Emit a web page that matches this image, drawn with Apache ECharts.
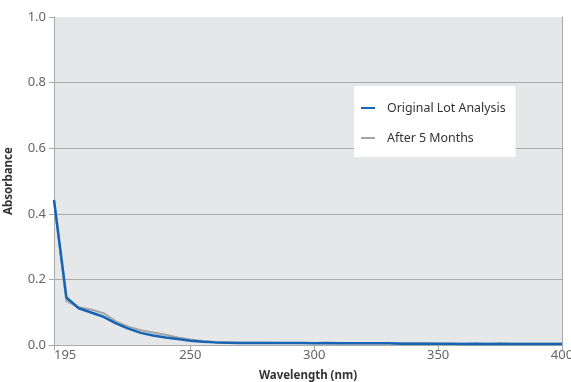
<!DOCTYPE html>
<html>
<head>
<meta charset="utf-8">
<script src="https://cdn.jsdelivr.net/npm/echarts@6/dist/echarts.min.js"></script>
<style>
html,body{margin:0;padding:0;background:#fff;}
#chart{width:571px;height:382px;}
</style>
</head>
<body>
<div id="chart"></div>
<script>
const wavelengths = [195,200,205,210,215,220,225,230,235,240,245,250,255,260,265,270,275,280,285,290,295,300,305,310,315,320,325,330,335,340,345,350,355,360,365,370,375,380,385,390,395,400];
const originalLot = [0.442,0.145,0.112,0.099,0.086,0.066,0.050,0.037,0.029,0.023,0.018,0.013,0.010,0.008,0.007,0.006,0.006,0.006,0.006,0.006,0.006,0.005,0.006,0.005,0.005,0.005,0.005,0.005,0.004,0.004,0.004,0.004,0.004,0.003,0.004,0.003,0.004,0.003,0.003,0.003,0.003,0.003];
const afterMonths = [0.440,0.134,0.115,0.108,0.097,0.072,0.056,0.045,0.038,0.031,0.023,0.017,0.012,0.009,0.008,0.007,0.007,0.007,0.006,0.006,0.006,0.006,0.006,0.005,0.005,0.005,0.005,0.005,0.005,0.005,0.005,0.004,0.004,0.004,0.004,0.004,0.004,0.004,0.004,0.004,0.004,0.004];
const xTickLabels = [195,250,300,350,400];
const yTickLabels = [0,0.2,0.4,0.6,0.8,1.0];
const seriesNames = ['Original Lot Analysis','After 5 Months'];

const FONT = '"Noto Sans", sans-serif';
const chart = echarts.init(document.getElementById('chart'), null, {renderer:'canvas'});
chart.setOption({
  animation:false,
  backgroundColor:'#ffffff',
  grid:{left:54,right:9,top:17,bottom:37,show:true,backgroundColor:'#e6e7e9',borderWidth:0,outerBoundsMode:'none',containLabel:false},
  legend:{
    orient:'vertical', left:354, top:86,
    backgroundColor:'#ffffff',
    padding:[16,10,13,7],
    itemGap:18, itemWidth:14, itemHeight:2,
    icon:'rect',
    textStyle:{fontFamily:FONT,fontSize:12.4,color:'#333',padding:[0,0,0,7]},
    data:[seriesNames[0],seriesNames[1]]
  },
  xAxis:{
    type:'value', min:195, max:400,
    name:'Wavelength (nm)', nameLocation:'middle', nameGap:25,
    nameTextStyle:{fontFamily:FONT,fontSize:11.5,fontWeight:'bold',color:'#333'},
    axisLine:{show:true,lineStyle:{color:'#aaaaaa',width:1}},
    axisTick:{show:true,customValues:xTickLabels,length:5,lineStyle:{color:'#aaaaaa'}},
    axisLabel:{customValues:xTickLabels,fontFamily:FONT,fontSize:13,color:'#666',margin:4,alignMinLabel:'left'},
    splitLine:{show:false}
  },
  yAxis:[{
    type:'value', min:0, max:1, interval:0.2,
    name:'Absorbance', nameLocation:'middle', nameGap:39, nameRotate:90,
    nameTextStyle:{fontFamily:FONT,fontSize:11.5,fontWeight:'bold',color:'#333'},
    axisLine:{show:true,lineStyle:{color:'#aaaaaa',width:1}},
    axisTick:{show:true,length:5,lineStyle:{color:'#aaaaaa'}},
    axisLabel:{formatter:v=>v.toFixed(1),fontFamily:FONT,fontSize:13,color:'#666',margin:8},
    splitLine:{show:true,lineStyle:{color:['#aaaaaa','#aaaaaa','#aaaaaa','#aaaaaa','#aaaaaa','rgba(0,0,0,0)'],width:1}}
  },{
    type:'value', min:0, max:1, position:'right',
    axisLine:{show:true,lineStyle:{color:'#aaaaaa',width:1}},
    axisTick:{show:false}, axisLabel:{show:false}, splitLine:{show:false}
  }],
  series:[
    {name:seriesNames[1],type:'line',data:wavelengths.map((w,i)=>[w,afterMonths[i]]),
     showSymbol:false,lineStyle:{color:'#a6a6a6',width:2},itemStyle:{color:'#a6a6a6'},z:2},
    {name:seriesNames[0],type:'line',data:wavelengths.map((w,i)=>[w,originalLot[i]]),
     showSymbol:false,lineStyle:{color:'#1565b3',width:2.5},itemStyle:{color:'#1565b3'},z:3}
  ]
});
</script>
</body>
</html>
